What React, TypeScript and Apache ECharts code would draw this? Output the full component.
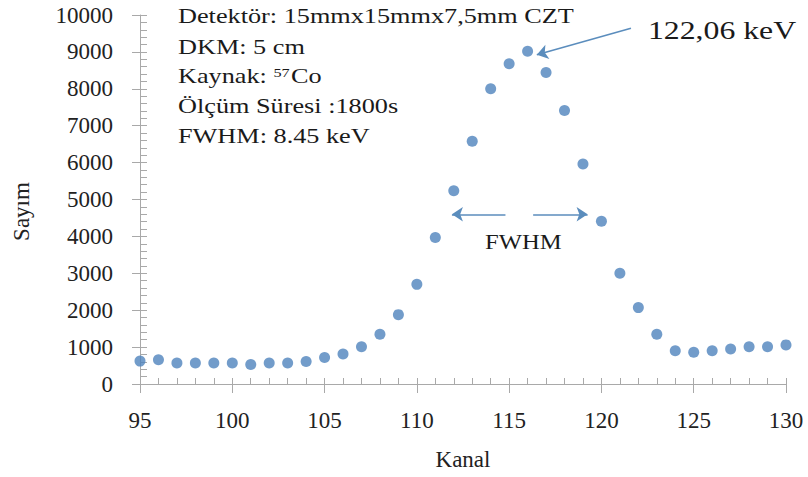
import React, { useEffect, useRef } from "react";
import * as echarts from "echarts";

const channels = [95, 96, 97, 98, 99, 100, 101, 102, 103, 104, 105, 106, 107, 108, 109, 110, 111, 112, 113, 114, 115, 116, 117, 118, 119, 120, 121, 122, 123, 124, 125, 126, 127, 128, 129, 130];
const counts = [620, 660, 570, 570, 570, 570, 530, 570, 570, 610, 720, 810, 1010, 1350, 1880, 2700, 3970, 5240, 6580, 8000, 8680, 9020, 8440, 7410, 5960, 4410, 3000, 2070, 1350, 900, 860, 900, 950, 1010, 1010, 1060];

const infoLines = [
  "Detektör: 15mmx15mmx7,5mm CZT",
  "DKM: 5 cm",
  "Kaynak: {sup|57}Co",
  "Ölçüm Süresi :1800s",
  "FWHM: 8.45 keV",
];
const peakLabel = "122,06 keV";
const fwhmLabel = "FWHM";
const xName = "Kanal";
const yName = "Sayım";

// annotation arrows in data coordinates [x, y]
const peakArrow = [[121.6, 9640], [116.5, 8920]];
const fwhmLeftArrow = [[114.8, 4600], [111.9, 4600]];
const fwhmRightArrow = [[116.3, 4600], [119.25, 4600]];

const FONT = "Liberation Serif";
const AXIS = "#a9a9a9";
const DOT = "#4f83bd";
const ARROW = "#5b8dbd";

export default function App() {
  const ref = useRef<HTMLDivElement>(null);
  useEffect(() => {
    if (!ref.current) return;
    const chart = echarts.init(ref.current, undefined, { renderer: "svg" });
    const baseX = {
      type: "value",
      min: 95,
      max: 130,
      interval: 5,
      position: "bottom",
      splitLine: { show: false },
    };
    const baseY = {
      type: "value",
      min: 0,
      max: 10000,
      interval: 1000,
      position: "left",
      splitLine: { show: false },
    };
    const arrowLine = (pts: number[][]) => [{ coord: pts[0] }, { coord: pts[1] }];
    chart.setOption({
      animation: false,
      backgroundColor: "#ffffff",
      grid: { left: 140, right: 22, top: 15, bottom: 93, containLabel: false },
      xAxis: [
        {
          ...baseX,
          name: xName,
          nameLocation: "middle",
          nameGap: 64,
          nameTextStyle: { fontFamily: FONT, fontSize: 23, color: "#222" },
          axisLine: { show: true, lineStyle: { color: AXIS, width: 1 } },
          axisTick: { show: true, inside: true, length: 6, lineStyle: { color: AXIS } },
          minorTick: { show: true, splitNumber: 5, length: 6, lineStyle: { color: AXIS } },
          axisLabel: { fontFamily: FONT, fontSize: 23, color: "#222", margin: 25 },
        },
        {
          ...baseX,
          axisLine: { show: false },
          axisTick: { show: true, inside: false, length: 9, lineStyle: { color: AXIS } },
          axisLabel: { show: false },
        },
      ],
      yAxis: [
        {
          ...baseY,
          name: yName,
          nameLocation: "middle",
          nameGap: 107,
          nameRotate: 90,
          nameTextStyle: { fontFamily: FONT, fontSize: 23, color: "#222", padding: [0, 24, 0, 0] },
          axisLine: { show: true, lineStyle: { color: AXIS, width: 1 } },
          axisTick: { show: true, inside: true, length: 7, lineStyle: { color: AXIS } },
          minorTick: { show: true, splitNumber: 5, length: 7, lineStyle: { color: AXIS } },
          axisLabel: {
            fontFamily: FONT,
            fontSize: 23,
            color: "#222",
            margin: 27,
            formatter: (v: number) => String(v),
          },
        },
        {
          ...baseY,
          axisLine: { show: false },
          axisTick: { show: true, inside: false, length: 8, lineStyle: { color: AXIS } },
          axisLabel: { show: false },
        },
      ],
      series: [
        {
          type: "scatter",
          xAxisIndex: 0,
          yAxisIndex: 0,
          symbol: "circle",
          symbolSize: 11,
          itemStyle: { color: DOT },
          data: channels.map((c, i) => [c, counts[i]]),
          markLine: {
            silent: true,
            symbol: ["none", "arrow"],
            symbolSize: 11,
            label: { show: false },
            emphasis: { disabled: true },
            lineStyle: { color: ARROW, width: 1.6, type: "solid" },
            data: [arrowLine(peakArrow), arrowLine(fwhmLeftArrow), arrowLine(fwhmRightArrow)],
          },
        },
      ],
      graphic: [
        ...infoLines.map((t, i) => ({
          type: "text",
          x: 178,
          y: [15.5, 47.3, 76.3, 106.3, 136.3][i],
          scaleX: 1.25,
          silent: true,
          style: {
            text: t,
            fontFamily: FONT,
            fontSize: 21,
            fill: "#1a1a1a",
            verticalAlign: "middle",
            rich: {
              sup: { fontFamily: FONT, fontSize: 13, fill: "#1a1a1a", verticalAlign: "top", padding: [0, 1, 8, 0] },
            },
          },
        })),
        {
          type: "text",
          x: 648,
          y: 31,
          scaleX: 1.27,
          silent: true,
          style: { text: peakLabel, fontFamily: FONT, fontSize: 25, fill: "#1a1a1a", verticalAlign: "middle" },
        },
        {
          type: "text",
          x: 485,
          y: 241,
          scaleX: 1.12,
          silent: true,
          style: { text: fwhmLabel, fontFamily: FONT, fontSize: 22, fill: "#1a1a1a", verticalAlign: "middle" },
        },
      ],
    });
    return () => chart.dispose();
  }, []);
  return (
    <div
      ref={ref}
      style={{ position: "fixed", left: 0, top: 0, width: 808, height: 477, background: "#fff" }}
    />
  );
}
